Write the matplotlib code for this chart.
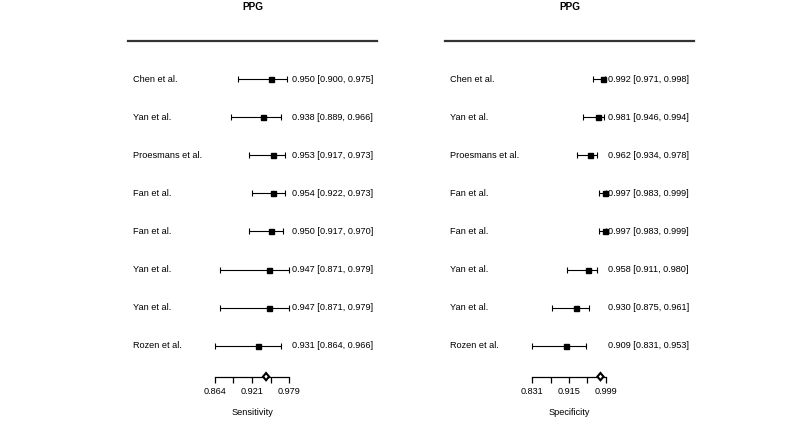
import matplotlib
matplotlib.use("Agg")
import matplotlib.pyplot as plt
from matplotlib.patches import Polygon
import matplotlib.transforms as mtransforms

plt.rcParams['font.family'] = ['Liberation Sans', 'DejaVu Sans']

studies = ["Chen et al.", "Yan et al.", "Proesmans et al.", "Fan et al.",
           "Fan et al.", "Yan et al.", "Yan et al.", "Rozen et al."]
sens = [0.950, 0.938, 0.953, 0.954, 0.950, 0.947, 0.947, 0.931]
sens_lo = [0.900, 0.889, 0.917, 0.922, 0.917, 0.871, 0.871, 0.864]
sens_hi = [0.975, 0.966, 0.973, 0.973, 0.970, 0.979, 0.979, 0.966]
spec = [0.992, 0.981, 0.962, 0.997, 0.997, 0.958, 0.930, 0.909]
spec_lo = [0.971, 0.946, 0.934, 0.983, 0.983, 0.911, 0.875, 0.831]
spec_hi = [0.998, 0.994, 0.978, 0.999, 0.999, 0.980, 0.961, 0.953]
pooled_sens = (0.943, 0.9383, 0.9477)
pooled_spec = (0.987, 0.980, 0.994)
sens_ticks = [0.864, 0.8925, 0.921, 0.950, 0.979]
sens_ticklabels = ["0.864", "", "0.921", "", "0.979"]
spec_ticks = [0.831, 0.873, 0.915, 0.957, 0.999]
spec_ticklabels = ["0.831", "", "0.915", "", "0.999"]
titles = ["PPG", "PPG"]
xlabels = ["Sensitivity", "Specificity"]

W, H = 800, 422
fig = plt.figure(figsize=(8, 4.22), dpi=100)

def px_axes(x0, x1, ytop, ybot):
    return fig.add_axes([x0 / W, 1 - ybot / H, (x1 - x0) / W, (ybot - ytop) / H])

row0_px = 79.0
row_step = 38.1
ytop_px, ybot_px = 41.0, 377.0
ylim_top = 1 - (row0_px - ytop_px) / row_step
ylim_bot = 1 + (ybot_px - row0_px) / row_step
FS = 6.6

panels = [
    dict(x0=128, x1=377, t0=(215.0, 0.864), t1=(289.3, 0.979), est=sens, lo=sens_lo, hi=sens_hi,
         pooled=pooled_sens, ticks=sens_ticks, tl=sens_ticklabels, textx=291.5),
    dict(x0=445, x1=694, t0=(532.3, 0.831), t1=(605.7, 0.999), est=spec, lo=spec_lo, hi=spec_hi,
         pooled=pooled_spec, ticks=spec_ticks, tl=spec_ticklabels, textx=608.0),
]

for i, p in enumerate(panels):
    ax = px_axes(p['x0'], p['x1'], ytop_px, ybot_px)
    (pa, va), (pb, vb) = p['t0'], p['t1']
    scale = (vb - va) / (pb - pa)
    ax.set_xlim(va - (pa - p['x0']) * scale, vb + (p['x1'] - pb) * scale)
    ax.set_ylim(ylim_bot, ylim_top)
    ax.patch.set_alpha(0)
    for s in ['left', 'right']:
        ax.spines[s].set_visible(False)
    ax.spines['top'].set_linewidth(1.6)
    ax.spines['top'].set_color('#333333')
    ax.spines['bottom'].set_bounds(p['ticks'][0], p['ticks'][-1])
    ax.spines['bottom'].set_linewidth(0.9)
    ax.set_yticks([])
    ax.set_xticks(p['ticks'])
    ax.set_xticklabels(p['tl'], fontsize=FS)
    ax.tick_params(axis='x', length=4.5, width=0.9, pad=3)
    ax.set_xlabel(xlabels[i], fontsize=FS, labelpad=8)

    rows = list(range(1, len(studies) + 1))
    xerr = [[e - l for e, l in zip(p['est'], p['lo'])], [h - e for e, h in zip(p['est'], p['hi'])]]
    ax.errorbar(p['est'], rows, xerr=xerr, fmt='s', color='black', ms=3.6,
                elinewidth=0.8, capsize=2.3, capthick=0.8, clip_on=False)

    textx = va + (p['textx'] - pa) * scale
    label_tr = mtransforms.blended_transform_factory(ax.transAxes, ax.transData)
    for r, name, e, l, h in zip(rows, studies, p['est'], p['lo'], p['hi']):
        ax.text(5 / (p['x1'] - p['x0']), r, name, transform=label_tr, fontsize=FS,
                ha='left', va='center')
        ax.text(textx, r, f"{e:.3f} [{l:.3f}, {h:.3f}]", fontsize=FS, ha='left', va='center')

    pe, pl, ph = p['pooled']
    hh = 0.095
    yb = ylim_bot - 0.01
    diamond = Polygon([[pl, yb], [pe, yb - hh], [ph, yb], [pe, yb + hh]], closed=True,
                      facecolor='white', edgecolor='black', linewidth=1.5, clip_on=False, zorder=5)
    ax.add_patch(diamond)

    ax.text(0.5, 1 + (41 - 7) / (ybot_px - ytop_px), titles[i], transform=ax.transAxes,
            fontsize=7.2, fontweight='bold', ha='center', va='center')

fig.savefig("out.png", dpi=100)
